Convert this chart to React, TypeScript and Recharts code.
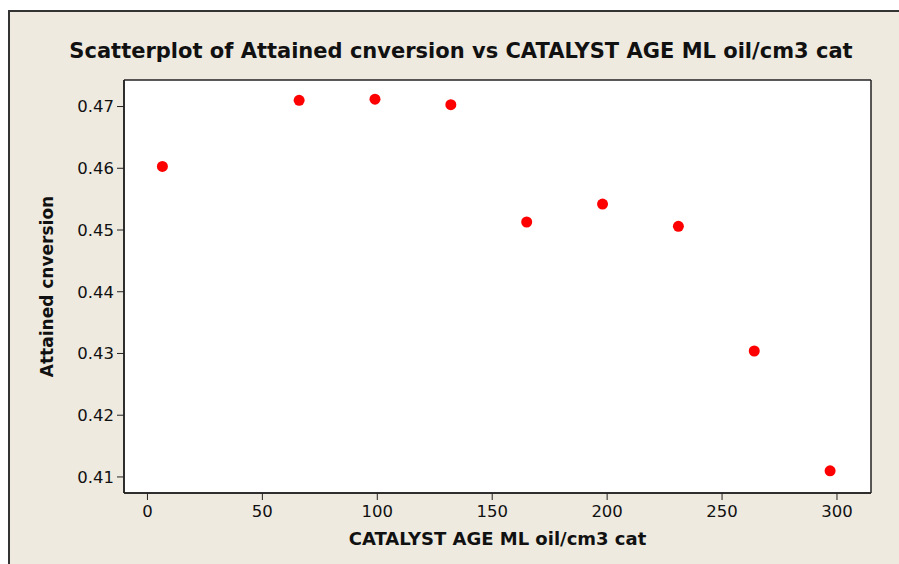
import { ScatterChart, Scatter, XAxis, YAxis, CartesianGrid } from "recharts"

const catalystAge = [6.5, 66, 99, 132, 165, 198, 231, 264, 297]
const conversion = [0.4603, 0.4710, 0.4712, 0.4703, 0.4513, 0.4542, 0.4506, 0.4304, 0.4110]
const xTicks = [0, 50, 100, 150, 200, 250, 300]
const yTicks = [0.41, 0.42, 0.43, 0.44, 0.45, 0.46, 0.47]

const points = catalystAge.map((x, i) => ({ x, y: conversion[i] }))

const font = "'DejaVu Sans', Verdana, sans-serif"

function Dot(props: any) {
  return <circle cx={props.cx} cy={props.cy} r={5.5} fill="#ff0000" />
}

export default function App() {
  return (
    <div style={{ position: "absolute", left: 0, top: 0, width: 899, height: 564, background: "#fff", overflow: "hidden" }}>
      <div
        style={{
          position: "absolute",
          left: 8,
          top: 10,
          width: 900,
          height: 560,
          background: "#eeeae0",
          borderTop: "2px solid #333",
          borderLeft: "2px solid #333",
        }}
      />
      <ScatterChart
        width={899}
        height={564}
        margin={{ top: 80, right: 28, bottom: 0, left: 0 }}
        style={{ position: "absolute", left: 0, top: 0, fontFamily: font }}
      >
        <CartesianGrid
          fill="#ffffff"
          stroke="#222"
          strokeWidth={1.5}
          horizontalCoordinatesGenerator={({ offset }: any) => [offset.top, offset.top + offset.height]}
          verticalCoordinatesGenerator={({ offset }: any) => [offset.left, offset.left + offset.width]}
        />
        <XAxis
          type="number"
          dataKey="x"
          domain={[-10.2, 314.8]}
          ticks={xTicks}
          height={71}
          tickSize={7}
          tickMargin={5}
          axisLine={{ stroke: "#222", strokeWidth: 1.5 }}
          tickLine={{ stroke: "#222" }}
          tick={{ fill: "#111", fontSize: 16.5, fontFamily: font }}
          label={{
            value: "CATALYST AGE ML oil/cm3 cat",
            position: "insideBottom",
            offset: 19,
            fill: "#111",
            fontSize: 18,
            fontWeight: "bold",
            fontFamily: font,
          }}
        />
        <YAxis
          type="number"
          dataKey="y"
          domain={[0.4074, 0.4743]}
          ticks={yTicks}
          width={124}
          tickSize={7}
          tickMargin={3}
          axisLine={{ stroke: "#222", strokeWidth: 1.5 }}
          tickLine={{ stroke: "#222" }}
          tick={{ fill: "#111", fontSize: 16.5, fontFamily: font }}
          tickFormatter={(v: number) => v.toFixed(2)}
          label={{
            value: "Attained cnversion",
            angle: -90,
            position: "insideLeft",
            offset: 47,
            style: { textAnchor: "middle" },
            fill: "#111",
            fontSize: 17,
            fontWeight: "bold",
            fontFamily: font,
          }}
        />
        <Scatter data={points} shape={<Dot />} isAnimationActive={false} />
        <text x={461} y={58} textAnchor="middle" fontSize={21} fontWeight="bold" fill="#111" fontFamily={font}>
          Scatterplot of Attained cnversion vs CATALYST AGE ML oil/cm3 cat
        </text>
      </ScatterChart>
    </div>
  )
}
